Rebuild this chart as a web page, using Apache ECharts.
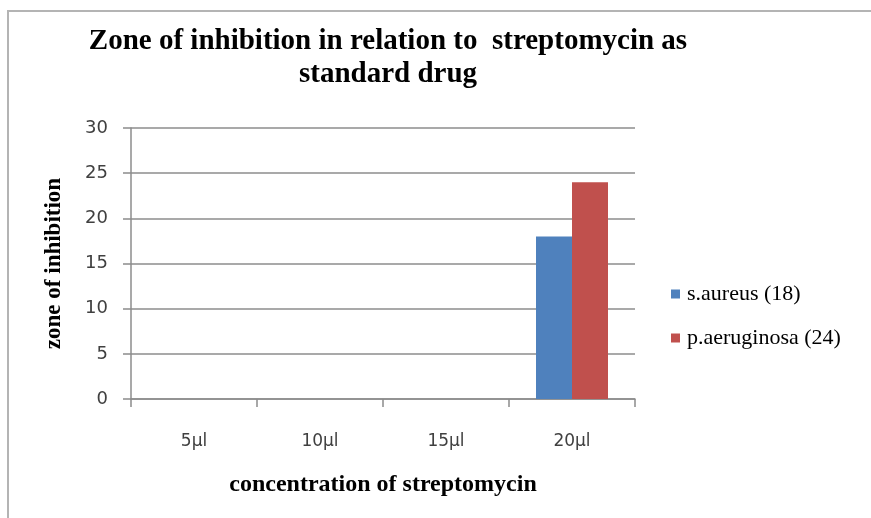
<!DOCTYPE html>
<html>
<head>
<meta charset="utf-8">
<script src="https://cdn.jsdelivr.net/npm/echarts@6/dist/echarts.min.js"></script>
<style>
  html, body { margin: 0; padding: 0; background: #fff; }
  #chart { width: 871px; height: 518px; }
</style>
</head>
<body>
<div id="chart"></div>
<script>
// concentrations on the x axis
const categories = ['5µl', '10µl', '15µl', '20µl'];
// zone of inhibition per organism (only 20µl has a reading)
const sAureus = [0, 0, 0, 18];
const pAeruginosa = [0, 0, 0, 24];
const seriesNames = ['s.aureus (18)', 'p.aeruginosa (24)'];

const serif = '"Liberation Serif", "Times New Roman", serif';
const sans = '"DejaVu Sans", Verdana, sans-serif';
const gridColor = '#8c8c8c';

const chart = echarts.init(document.getElementById('chart'), null, { renderer: 'canvas' });

chart.setOption({
  animation: false,
  backgroundColor: '#fff',
  title: {
    text: 'Zone of inhibition in relation to  streptomycin as\nstandard drug',
    left: 383,
    top: 20,
    textAlign: 'center',
    textStyle: {
      fontFamily: serif,
      fontWeight: 'bold',
      fontSize: 29,
      lineHeight: 33,
      color: '#000'
    }
  },
  legend: {
    orient: 'vertical',
    left: 666,
    top: 277,
    itemWidth: 9,
    itemHeight: 9,
    itemGap: 20,
    icon: 'rect',
    data: seriesNames,
    textStyle: { fontFamily: serif, fontSize: 22, lineHeight: 24, color: '#000', padding: [0, 0, 0, 2] }
  },
  grid: { left: 131, right: 236, top: 128, bottom: 119, containLabel: false },
  xAxis: {
    type: 'category',
    data: categories,
    boundaryGap: true,
    name: 'concentration of streptomycin',
    nameLocation: 'middle',
    nameGap: 74,
    nameTextStyle: { fontFamily: serif, fontWeight: 'bold', fontSize: 24, color: '#000' },
    axisLine: { lineStyle: { color: gridColor, width: 1.5 } },
    axisTick: { show: true, alignWithLabel: false, length: 8, lineStyle: { color: gridColor, width: 1.5 } },
    axisLabel: { fontFamily: sans, fontSize: 17, color: '#404040', margin: 34 },
    splitLine: { show: false }
  },
  yAxis: {
    type: 'value',
    min: 0,
    max: 30,
    interval: 5,
    name: 'zone of inhibition',
    nameLocation: 'middle',
    nameGap: 65,
    nameRotate: 90,
    nameTextStyle: { fontFamily: serif, fontWeight: 'bold', fontSize: 23, color: '#000' },
    axisLine: { show: true, lineStyle: { color: gridColor, width: 1.5 } },
    axisTick: { show: true, length: 8, lineStyle: { color: gridColor, width: 1.5 } },
    axisLabel: { fontFamily: sans, fontSize: 18, color: '#404040', margin: 23 },
    splitLine: { show: true, lineStyle: { color: gridColor, width: 1.5 } }
  },
  series: [
    {
      name: seriesNames[0],
      type: 'bar',
      data: sAureus,
      barWidth: 36,
      barGap: '0%',
      itemStyle: { color: '#4F81BD' }
    },
    {
      name: seriesNames[1],
      type: 'bar',
      data: pAeruginosa,
      barWidth: 36,
      itemStyle: { color: '#C0504D' }
    }
  ],
  graphic: [
    // frame lines left and top, like the cropped chart border
    { type: 'line', shape: { x1: 8, y1: 11, x2: 8, y2: 518 }, style: { stroke: '#b4b4b4', lineWidth: 2 } },
    { type: 'line', shape: { x1: 7, y1: 11, x2: 871, y2: 11 }, style: { stroke: '#b4b4b4', lineWidth: 2 } }
  ]
});
</script>
</body>
</html>
